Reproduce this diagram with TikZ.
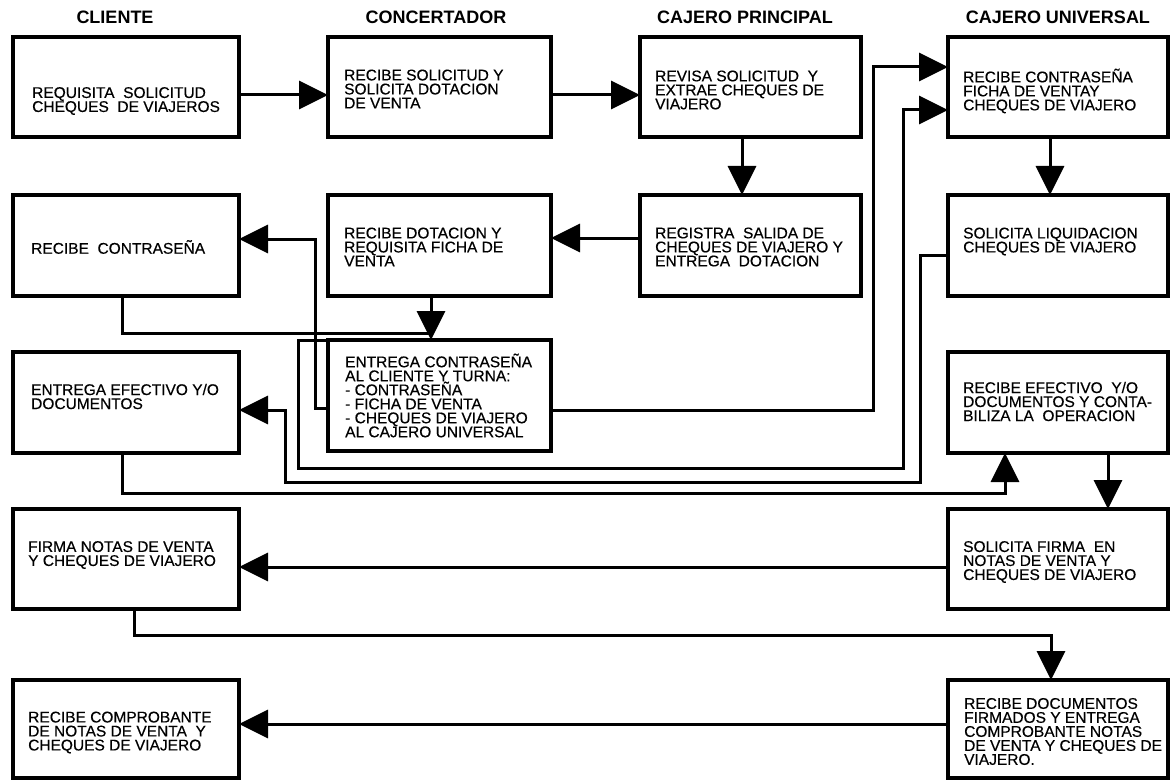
\documentclass[tikz,border=0pt]{standalone}
\usepackage{fontspec}
\setmainfont{Liberation Sans}
\newfontfamily\boxfont[FakeBold=0.4]{Liberation Sans}
\usetikzlibrary{arrows.meta,calc}

\begin{document}
\begin{tikzpicture}[x=1pt,y=-1pt,
  box/.style={draw, line width=3.2pt, inner sep=0pt, outer sep=0pt},
  txt/.style={anchor=west, align=left, inner sep=0pt,
    font=\boxfont\fontsize{15.5}{14}\selectfont},
  head/.style={font=\bfseries\fontsize{18}{20}\selectfont},
  flow/.style={line width=3pt, -{Triangle[length=29pt,width=28pt]}},
  link/.style={line width=3pt}]

\useasboundingbox (0,0) rectangle (1170,781);
\fill[white] (0,0) rectangle (1170,781);

% column headings
\node[head] (hc) at (115,17) {CLIENTE};
\node[head] (hk) at (436,17) {CONCERTADOR};
\node[head] (hp) at (745,17) {CAJERO PRINCIPAL};
\node[head] (hu) at (1058,17) {CAJERO UNIVERSAL};

% cliente
\node[box, minimum width=226pt, minimum height=100pt] (c1) at (126,87) {};
\node[box, minimum width=226pt, minimum height=101pt] (c2) at (126,245.5) {};
\node[box, minimum width=226pt, minimum height=101pt] (c3) at (126,402.5) {};
\node[box, minimum width=226pt, minimum height=100pt] (c4) at (126,559) {};
\node[box, minimum width=226pt, minimum height=98pt] (c5) at (126,729) {};
% concertador
\node[box, minimum width=223pt, minimum height=100pt] (k1) at (439.5,87) {};
\node[box, minimum width=223pt, minimum height=101pt] (k2) at (439.5,245.5) {};
\node[box, minimum width=223pt, minimum height=111pt] (k3) at (439.5,395.5) {};
% cajero principal
\node[box, minimum width=221pt, minimum height=100pt] (p1) at (750.5,87) {};
\node[box, minimum width=221pt, minimum height=101pt] (p2) at (750.5,245.5) {};
% cajero universal
\node[box, minimum width=220pt, minimum height=100pt] (u1) at (1058,87) {};
\node[box, minimum width=220pt, minimum height=101pt] (u2) at (1058,245.5) {};
\node[box, minimum width=220pt, minimum height=101pt] (u3) at (1058,402.5) {};
\node[box, minimum width=220pt, minimum height=100pt] (u4) at (1058,559) {};
\node[box, minimum width=220pt, minimum height=98pt] (u5) at (1058,729) {};

% box texts
\node[txt] (c1t) at ($(c1.west)+(19,14)$) {REQUISITA~~SOLICITUD\\CHEQUES~~DE VIAJEROS};
\node[txt] (c2t) at ($(c2.west)+(18,1.5)$) {RECIBE~~CONTRASEÑA};
\node[txt] (c3t) at ($(c3.west)+(18,-6)$) {ENTREGA EFECTIVO Y/O\\DOCUMENTOS};
\node[txt] (c4t) at ($(c4.west)+(15,-4)$) {FIRMA NOTAS DE VENTA\\Y CHEQUES DE VIAJERO};
\node[txt] (c5t) at ($(c5.west)+(15,3.5)$) {RECIBE COMPROBANTE\\DE NOTAS DE VENTA~~Y\\CHEQUES DE VIAJERO};
\node[txt] (k1t) at ($(k1.west)+(16,2)$) {RECIBE SOLICITUD Y\\SOLICITA DOTACION\\DE VENTA};
\node[txt] (k2t) at ($(k2.west)+(16,1.5)$) {RECIBE DOTACION Y\\REQUISITA FICHA DE\\VENTA};
\node[txt] (k3t) at ($(k3.west)+(17,0)$) {ENTREGA CONTRASEÑA\\AL CLIENTE Y TURNA:\\- CONTRASEÑA\\- FICHA DE VENTA\\- CHEQUES DE VIAJERO\\AL CAJERO UNIVERSAL};
\node[txt] (p1t) at ($(p1.west)+(15,3)$) {REVISA SOLICITUD~~Y\\EXTRAE CHEQUES DE\\VIAJERO};
\node[txt] (p2t) at ($(p2.west)+(15,1.5)$) {REGISTRA~~SALIDA DE\\CHEQUES DE VIAJERO Y\\ENTREGA~~DOTACION};
\node[txt] (u1t) at ($(u1.west)+(15,4)$) {RECIBE CONTRASEÑA\\FICHA DE VENTAY\\CHEQUES DE VIAJERO};
\node[txt] (u2t) at ($(u2.west)+(15,-4)$) {SOLICITA LIQUIDACION\\CHEQUES DE VIAJERO};
\node[txt] (u3t) at ($(u3.west)+(15,-1)$) {RECIBE EFECTIVO~~Y/O\\DOCUMENTOS Y CONTA-\\BILIZA LA~~OPERACION};
\node[txt] (u4t) at ($(u4.west)+(15,3)$) {SOLICITA FIRMA~~EN\\NOTAS DE VENTA Y\\CHEQUES DE VIAJERO};
\node[txt] (u5t) at ($(u5.west)+(16,2.5)$) {RECIBE DOCUMENTOS\\FIRMADOS Y ENTREGA\\COMPROBANTE NOTAS\\DE VENTA Y CHEQUES DE\\VIAJERO.};

% route corners
\coordinate (j1) at (431,333);
\coordinate (w1) at (315,239);
\coordinate (w2) at (873,67);
\coordinate (w3) at (298,468);
\coordinate (w4) at (903,110);
\coordinate (w5) at (920,482);
\coordinate (w6) at (285,410);
\coordinate (w7) at (1005,493);
\coordinate (w8) at (1051,635);

% straight flows
\draw[flow] ([yshift=-8pt]c1.east) -- ([yshift=-8pt]k1.west);
\draw[flow] ([yshift=-8pt]k1.east) -- ([yshift=-8pt]p1.west);
\draw[flow] ([xshift=-8.5pt]p1.south) -- ([xshift=-8.5pt]p2.north);
\draw[flow] ([yshift=7.5pt]p2.west) -- ([yshift=7.5pt]k2.east);
\draw[flow] ([xshift=-8pt]u1.south) -- ([xshift=-8pt]u2.north);
\draw[flow] ([xshift=-8.5pt]k2.south) -- ([xshift=-8.5pt]k3.north);
\draw[flow] ([xshift=50pt]u3.south) -- ([xshift=50pt]u4.north);
\draw[flow] ([yshift=-8pt]u4.west) -- ([yshift=-8pt]c4.east);
\draw[flow] ([yshift=5pt]u5.west) -- ([yshift=5pt]c5.east);

% routed flows
\draw[link] ([xshift=-4pt]c2.south) |- (j1);
\draw[flow] ([yshift=-12.5pt]k3.west) -| (w1) -- ([yshift=6.5pt]c2.east);
\draw[flow] ([yshift=-14.5pt]k3.east) -| (w2) -- ([yshift=20pt]u1.west);
\draw[flow] (k3.north west) -| (w3) -| (w4) -- ([yshift=-23pt]u1.west);
\draw[flow] ([yshift=-9.5pt]u2.west) -| (w5) -| (w6) -- ([yshift=-7.5pt]c3.east);
\draw[flow] ([xshift=-4pt]c3.south) |- (w7) -- ([xshift=-53pt]u3.south);
\draw[flow] ([xshift=8pt]c4.south) |- (w8) -- ([xshift=-7pt]u5.north);
\end{tikzpicture}
\end{document}
